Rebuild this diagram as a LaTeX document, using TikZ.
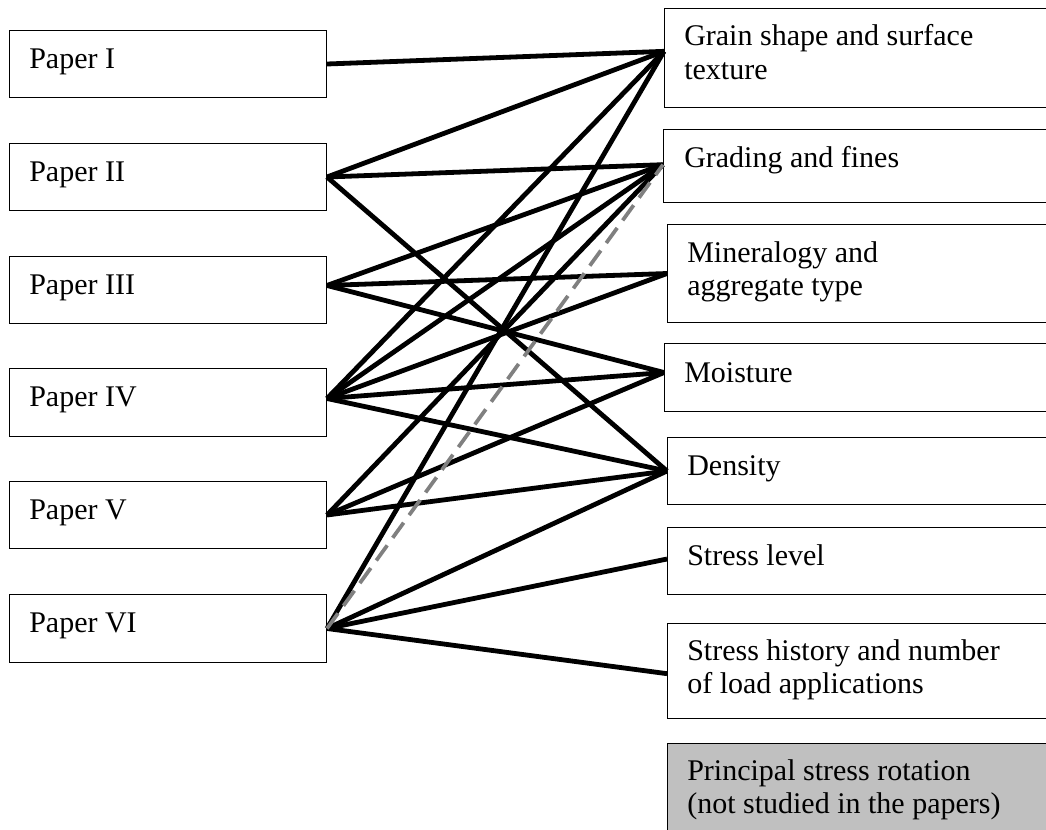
\documentclass[tikz,border=0pt]{standalone}
\usepackage{fontspec}
\setmainfont{Liberation Serif}
\definecolor{dashgray}{RGB}{128,128,128}
\definecolor{boxgray}{RGB}{192,192,192}
\begin{document}
\begin{tikzpicture}[x=0.75pt,y=-0.75pt,
  box/.style={draw=black, line width=0.75pt, inner sep=0pt, anchor=north west, minimum width=#1},
  box/.default=237.75pt,
  lbl/.style={anchor=base west, inner sep=0pt, align=left, font=\fontsize{22.5}{24.75}\selectfont},
  widelbl/.style={lbl, font=\fontsize{22.5}{25.5}\selectfont},
  link/.style={line width=3.6pt, black},
  graylink/.style={line width=2.8pt, dashgray, dash pattern=on 14pt off 7pt}]
\useasboundingbox (0,0) rectangle (1046,829);
\clip (0,0) rectangle (1046,829);
% left boxes
\node[box, minimum height=50.25pt] (p1) at (9,30) {};
\node[box, minimum height=50.25pt] (p2) at (9,143) {};
\node[box, minimum height=50.25pt] (p3) at (9,256) {};
\node[box, minimum height=51pt] (p4) at (9,368) {};
\node[box, minimum height=50.25pt] (p5) at (9,481) {};
\node[box, minimum height=51pt] (p6) at (9,594) {};
\node[lbl] (t1) at (29,68) {Paper I};
\node[lbl] (t2) at (29,181) {Paper II};
\node[lbl] (t3) at (29,294) {Paper III};
\node[lbl] (t4) at (29,406) {Paper IV};
\node[lbl] (t5) at (29,519) {Paper V};
\node[lbl] (t6) at (29,632) {Paper VI};
% right boxes
\node[box=300pt, minimum height=74.25pt] (grain) at (664,8) {};
\node[box=300pt, minimum height=54.75pt] (grad) at (663,129) {};
\node[box=300pt, minimum height=73.5pt] (mine) at (667,224) {};
\node[box=300pt, minimum height=51pt] (moist) at (664,343) {};
\node[box=300pt, minimum height=50.25pt] (dens) at (667,437) {};
\node[box=300pt, minimum height=50.25pt] (slev) at (667,527) {};
\node[box=300pt, minimum height=71.25pt] (shist) at (667,623) {};
\node[box=300pt, minimum height=75pt, fill=boxgray] (princ) at (667,743) {};
\node[widelbl] (tg) at (684,79) {Grain shape and surface\\texture};
\node[lbl] (tgr) at (684,167) {Grading and fines};
\node[lbl] (tm) at (687,295) {Mineralogy and\\aggregate type};
\node[lbl] (tmo) at (684,382) {Moisture};
\node[lbl] (td) at (687,475) {Density};
\node[lbl] (tsl) at (687,565) {Stress level};
\node[lbl] (tsh) at (687,693) {Stress history and number\\of load applications};
\node[lbl] (tp) at (687,813) {Principal stress rotation\\(not studied in the papers)};
% connection points
\coordinate (a1) at (p1.east);
\coordinate (a2) at (p2.east);
\coordinate (a3) at ([yshift=3.4pt]p3.east);
\coordinate (a4) at ([yshift=3pt]p4.east);
\coordinate (a5) at (p5.east);
\coordinate (a6) at (p6.east);
\coordinate (bg) at ([yshift=5pt]grain.west);
\coordinate (bgr) at ([yshift=1pt]grad.west);
\coordinate (bm) at (mine.west);
\coordinate (bmo) at ([yshift=3.75pt]moist.west);
\coordinate (bd) at (dens.west);
\coordinate (bsl) at ([yshift=1.5pt]slev.west);
\coordinate (bsh) at ([yshift=-2pt]shist.west);
% connectors
\draw[link] (a1) -- (bg);
\draw[link] (a2) -- (bg);
\draw[link] (a2) -- (bgr);
\draw[link] (a2) -- (bd);
\draw[link] (a3) -- (bgr);
\draw[link] (a3) -- (bm);
\draw[link] (a3) -- (bmo);
\draw[link] (a4) -- (bg);
\draw[link] (a4) -- (bgr);
\draw[link] (a4) -- (bm);
\draw[link] (a4) -- (bmo);
\draw[link] (a4) -- (bd);
\draw[link] (a5) -- (bgr);
\draw[link] (a5) -- (bmo);
\draw[link] (a5) -- (bd);
\draw[link] (a6) -- (bg);
\draw[link] (a6) -- (bd);
\draw[link] (a6) -- (bsl);
\draw[link] (a6) -- (bsh);
\draw[graylink] (a6) -- (bgr);
\end{tikzpicture}
\end{document}
